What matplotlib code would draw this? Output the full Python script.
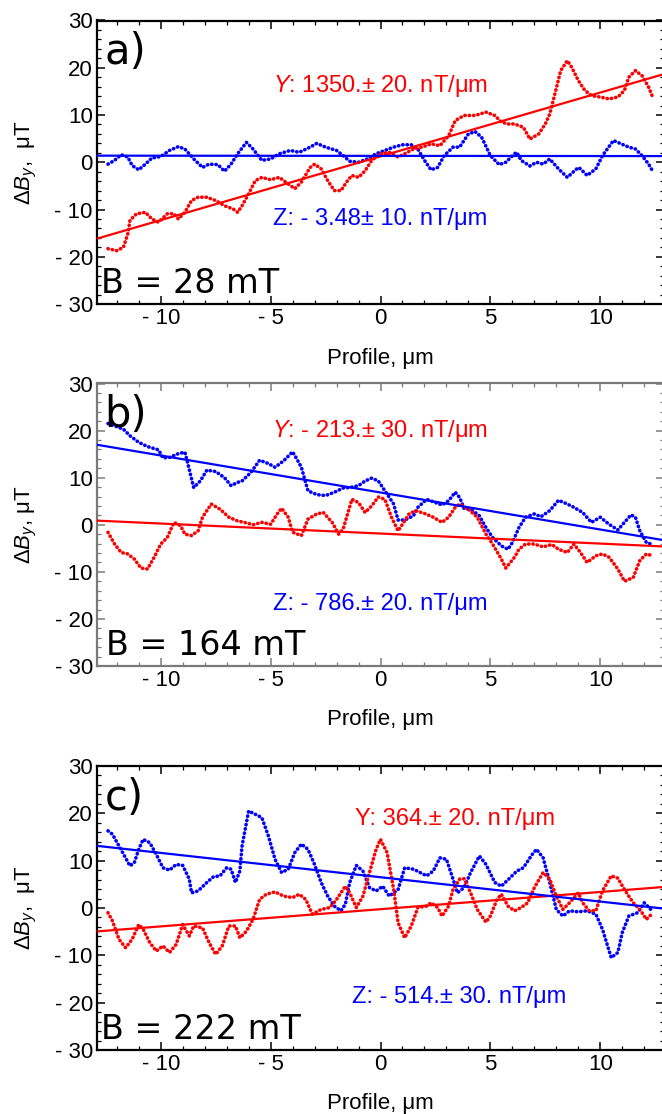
import matplotlib
matplotlib.use("Agg")
import matplotlib.pyplot as plt
from matplotlib.ticker import MultipleLocator, FixedLocator, FixedFormatter

plt.rcParams['font.family'] = ['Liberation Sans', 'DejaVu Sans']
plt.rcParams['mathtext.fontset'] = 'custom'
plt.rcParams['mathtext.rm'] = 'Liberation Sans'
plt.rcParams['mathtext.it'] = 'Liberation Sans:italic'

# ---------------- data ----------------
# panel a, B = 28 mT
a_red_x = [-12.4, -12.0, -11.7, -11.5, -11.4, -11.1, -10.7, -10.4, -10.1, -9.7, -9.4, -9.2, -8.9, -8.6, -8.3,
           -7.9, -7.5, -7.1, -6.7, -6.5, -6.3, -6.0, -5.7, -5.4, -5.0, -4.6, -4.2, -3.9, -3.6, -3.2, -3.0,
           -2.7, -2.4, -2.1, -1.8, -1.5, -1.3, -1.0, -0.7, -0.4, 0.0, 0.4, 0.8, 1.1, 1.5, 1.9, 2.3, 2.7,
           3.1, 3.4, 3.8, 4.3, 4.8, 5.2, 5.5, 5.8, 6.1, 6.5, 6.8, 7.2, 7.5, 7.7, 7.9, 8.2, 8.5, 8.7, 9.0,
           9.3, 9.6, 10.0, 10.4, 10.8, 11.1, 11.3, 11.6, 11.9, 12.2, 12.4]
a_red_y = [-18.3, -18.7, -18.0, -15.2, -12.3, -10.9, -10.6, -12.0, -12.7, -10.9, -10.9, -12.0, -10.6, -8.1, -7.4,
           -7.4, -8.1, -9.2, -9.9, -10.6, -9.2, -6.7, -3.9, -3.2, -3.7, -3.2, -4.6, -5.6, -4.2, -1.1, -0.4,
           -1.4, -3.9, -6.0, -6.0, -3.9, -2.8, -3.2, -1.8, 0.4, 1.8, 2.1, 1.1, 1.8, 2.8, 3.2, 3.9, 3.5,
           5.6, 8.8, 9.9, 9.9, 10.6, 9.9, 8.5, 8.1, 8.1, 7.4, 4.9, 6.0, 8.1, 10.2, 13.8, 19.4, 21.5, 20.1, 17.3,
           15.2, 14.1, 13.8, 13.4, 13.8, 15.2, 18.0, 19.4, 18.3, 15.9, 13.6]
a_blue_x = [-12.4, -12.1, -11.8, -11.5, -11.3, -11.0, -10.7, -10.4, -10.0, -9.6, -9.2, -8.9, -8.5, -8.1, -7.8,
            -7.4, -7.1, -6.8, -6.5, -6.1, -5.8, -5.4, -5.0, -4.6, -4.1, -3.7, -3.2, -2.9, -2.5, -2.0, -1.7,
            -1.4, -1.0, -0.6, -0.2, 0.2, 0.6, 1.0, 1.4, 1.7, 2.0, 2.3, 2.6, 2.9, 3.3, 3.6, 4.0, 4.3, 4.6,
            5.0, 5.4, 5.7, 6.1, 6.2, 6.4, 6.8, 7.1, 7.4, 7.7, 8.1, 8.5, 9.0, 9.1, 9.4, 9.8, 10.1, 10.6,
            10.9, 11.3, 11.6, 11.9, 12.2, 12.4]
a_blue_y = [-0.4, 0.4, 1.6, 1.1, -0.7, -1.6, -0.4, 0.9, 1.2, 2.5, 3.3, 2.8, 0.7, -1.1, -0.4,
            -0.5, -1.9, -0.4, 1.8, 4.2, 2.8, 0.4, 0.7, 1.8, 2.5, 2.1, 3.2, 4.0, 3.2, 2.5, 1.4,
            0.2, 0.0, 0.7, 1.8, 2.5, 3.2, 3.7, 3.7, 2.8, 0.4, -1.6, -1.1, 1.4, 3.2, 3.2, 6.0, 6.5, 5.3,
            1.4, -0.5, 0.0, 1.8, 2.1, 0.4, -0.8, 0.0, -0.4, 0.7, -1.4, -3.2, -1.1, -1.4, -2.8, -1.4, 1.4, 4.6,
            4.0, 3.2, 2.8, 1.4, -0.4, -2.0]

# panel b, B = 164 mT
b_red_x = [-12.4, -12.1, -11.8, -11.5, -11.2, -10.9, -10.6, -10.3, -10.0, -9.7, -9.4, -9.1, -8.9, -8.6, -8.3,
           -8.1, -7.7, -7.3, -6.9, -6.5, -6.2, -5.8, -5.4, -5.0, -4.7, -4.5, -4.2, -4.0, -3.6, -3.3, -2.9,
           -2.6, -2.2, -1.9, -1.7, -1.3, -1.0, -0.7, -0.4, -0.1, 0.2, 0.5, 0.8, 1.0, 1.3, 1.6, 2.0, 2.4,
           2.8, 3.1, 3.4, 3.6, 4.0, 4.4, 4.8, 5.1, 5.5, 5.7, 6.1, 6.3, 6.6, 7.0, 7.4, 7.8, 8.1, 8.5, 8.8,
           9.1, 9.4, 9.8, 10.1, 10.4, 10.8, 11.1, 11.5, 11.8, 12.1, 12.4]
b_red_y = [-1.6, -4.1, -5.9, -6.2, -7.3, -9.2, -9.4, -6.9, -4.1, -2.7, 0.5, -0.2, -2.0, -2.3, -1.3,
           1.6, 4.4, 3.3, 1.6, 0.8, 0.5, 0.0, 0.5, 0.1, 2.3, 3.5, 1.6, -1.6, -2.3, 1.2, 2.3,
           2.6, 0.5, -2.0, -0.9, 5.4, 4.7, 2.6, 4.0, 5.9, 5.4, 1.6, -1.3, 0.1, 2.3, 3.0, 2.4, 1.6,
           0.5, 1.6, 3.7, 4.4, 3.3, 1.6, -2.0, -4.1, -7.3, -9.2, -6.9, -5.2, -4.1, -4.1, -4.7, -4.2, -5.2, -5.9, -4.1,
           -5.9, -8.0, -6.6, -6.2, -6.9, -9.4, -12.0, -11.2, -7.6, -6.2, -6.6]
b_blue_x = [-12.4, -12.1, -11.7, -11.4, -11.0, -10.6, -10.1, -9.9, -9.6, -9.2, -8.9, -8.8, -8.5, -8.2, -7.9,
            -7.5, -7.1, -6.8, -6.5, -6.3, -5.9, -5.5, -5.1, -4.8, -4.4, -4.0, -3.8, -3.6, -3.3, -2.9, -2.5,
            -2.1, -1.7, -1.4, -1.0, -0.7, -0.4, -0.1, 0.2, 0.6, 0.8, 1.1, 1.5, 1.7, 2.1, 2.5, 2.8, 3.1,
            3.4, 3.6, 3.8, 4.2, 4.5, 4.8, 5.1, 5.5, 5.8, 6.0, 6.3, 6.6, 7.0, 7.3, 7.7, 8.1, 8.5, 8.8,
            9.2, 9.6, 10.0, 10.4, 10.8, 11.1, 11.4, 11.6, 11.8, 12.1, 12.4]
b_blue_y = [21.5, 21.0, 20.3, 18.9, 17.5, 16.6, 15.9, 14.2, 14.3, 15.1, 15.4, 13.6, 7.9, 9.3, 11.6,
            11.3, 10.0, 8.3, 9.0, 9.3, 11.1, 13.7, 13.0, 12.2, 13.6, 15.5, 13.9, 12.2, 7.2, 6.4, 6.2,
            6.9, 7.8, 7.9, 8.3, 9.3, 9.9, 9.3, 7.2, 4.4, 1.0, 1.0, 1.9, 3.7, 5.4, 4.7, 4.2, 5.1,
            6.9, 5.8, 3.5, 3.0, 1.9, -0.6, -2.7, -4.5, -5.2, -3.8, -0.6, 1.6, 2.3, 1.7, 3.0, 5.2, 4.4, 3.7,
            2.6, 0.5, 1.6, 0.1, -1.1, 0.5, 2.1, 1.6, -1.3, -3.8, -4.2]

# panel c, B = 222 mT
c_red_x = [-12.4, -12.2, -11.9, -11.6, -11.3, -11.0, -10.8, -10.5, -10.2, -9.9, -9.6, -9.3, -9.0, -8.7, -8.5,
           -8.1, -7.8, -7.5, -7.2, -6.9, -6.6, -6.4, -6.1, -5.8, -5.5, -5.2, -4.8, -4.4, -4.0, -3.7, -3.4,
           -3.1, -2.7, -2.3, -2.0, -1.6, -1.4, -1.1, -0.8, -0.5, -0.2, 0.0, 0.3, 0.6, 0.8, 1.1, 1.4, 1.7,
           2.1, 2.3, 2.6, 2.8, 3.1, 3.3, 3.6, 3.8, 4.1, 4.4, 4.8, 5.0, 5.3, 5.5, 5.8, 6.1, 6.4, 6.7, 7.0,
           7.4, 7.7, 8.0, 8.3, 8.6, 9.0, 9.2, 9.5, 9.8, 10.1, 10.5, 10.8, 11.1, 11.5, 11.8, 12.1, 12.4]
c_red_y = [-1.0, -2.7, -6.6, -8.4, -6.6, -3.5, -4.5, -7.3, -9.1, -8.0, -9.4, -7.7, -3.5, -5.9, -3.8,
           -4.2, -7.3, -9.8, -8.0, -3.8, -3.8, -6.3, -4.9, -2.4, 1.8, 2.9, 3.4, 2.5, 2.2, 2.9, 1.8,
           -1.3, -0.3, 0.1, 1.8, 4.6, 3.2, 0.1, 2.5, 7.5, 12.4, 14.5, 11.7, 3.9, -3.1, -6.3, -3.8, 0.1,
           0.4, 1.1, 0.1, -1.7, 0.4, 3.9, 6.1, 6.2, 3.2, -0.3, -3.0, -1.7, 1.8, 2.9, 0.4, -0.6, 0.1, 1.1, 4.3,
           7.5, 6.1, 2.5, -0.3, 1.1, 3.2, 1.1, -0.6, -0.6, 3.6, 6.8, 6.3, 3.9, 1.1, -0.3, -2.4, -1.0]
c_blue_x = [-12.4, -12.2, -11.9, -11.6, -11.4, -11.2, -11.0, -10.8, -10.5, -10.2, -9.9, -9.6, -9.3, -9.0, -8.7,
            -8.6, -8.3, -7.9, -7.6, -7.3, -7.0, -6.8, -6.6, -6.4, -6.3, -6.0, -5.7, -5.4, -5.1, -4.8, -4.5,
            -4.2, -3.9, -3.6, -3.3, -3.0, -2.7, -2.4, -2.1, -1.8, -1.6, -1.4, -1.1, -0.8, -0.5, -0.2, 0.1,
            0.4, 0.8, 1.1, 1.5, 1.8, 2.1, 2.4, 2.7, 3.0, 3.3, 3.5, 3.8, 4.1, 4.5, 4.8, 5.2, 5.5, 5.9, 6.2,
            6.5, 6.9, 7.1, 7.4, 7.7, 8.0, 8.3, 8.6, 9.0, 9.4, 9.8, 10.1, 10.5, 10.8, 11.0, 11.3, 11.7, 12.0, 12.3]
c_blue_y = [16.3, 15.6, 13.1, 10.6, 8.9, 9.6, 12.4, 14.5, 13.8, 11.3, 8.5, 8.0, 9.2, 9.0, 6.1,
            3.2, 3.6, 5.4, 6.6, 6.8, 8.5, 8.2, 5.4, 7.8, 13.1, 20.5, 19.8, 19.1, 15.2, 10.3, 7.5,
            8.2, 11.7, 13.5, 12.4, 9.2, 5.4, 2.5, 0.4, -0.6, 0.8, 5.4, 9.0, 7.8, 4.3, 3.6, 4.6,
            2.5, 3.9, 8.5, 8.2, 7.5, 6.8, 7.8, 10.6, 10.3, 6.1, 3.2, 4.3, 7.5, 11.0, 9.2, 5.4, 4.6, 6.4, 7.8,
            8.5, 11.3, 12.4, 10.6, 5.4, -0.3, -1.7, -0.6, -0.8, -0.6, -1.3, -4.5, -10.5, -9.4, -5.2, -1.7, -1.0, 1.1, -0.3]

# linear fits: slope (uT/um), intercept (uT)
fit_red = [(1.350, 1.25), (-0.213, -1.87), (0.364, -0.25)]
fit_blue = [(-0.00348, 1.35), (-0.786, 6.85), (-0.514, 6.5)]

panel_letters = ["a)", "b)", "c)"]
field_labels = ["B = 28 mT", "B = 164 mT", "B = 222 mT"]
y_texts = [r"$Y$: 1350.± 20. nT/μm", r"$Y$: - 213.± 30. nT/μm", "Y: 364.± 20. nT/μm"]
z_texts = ["Z: - 3.48± 10. nT/μm", "Z: - 786.± 20. nT/μm", "Z: - 514.± 30. nT/μm"]

x_ticks = [-10, -5, 0, 5, 10]
x_ticklabels = ["- 10", "- 5", "0", "5", "10"]
y_ticks = [-30, -20, -10, 0, 10, 20, 30]
y_ticklabels = ["- 30", "- 20", "- 10", "0", "10", "20", "30"]

# ---------------- layout ----------------
W, H = 662, 1114
fig = plt.figure(figsize=(W / 100, H / 100), dpi=100)

ax_left = 97
ax_right = 664
panel_tb = [(20.5, 304), (383.5, 666), (766, 1050)]
frame_colors = ["black", "#7a7a7a", "black"]
y_text_pos = [(0.0, 16.2), (0.0, 20.0), (3.4, 18.7)]
z_text_pos = [(0.0, -12.0), (0.0, -16.8), (3.6, -18.9)]
field_x = [-12.7, -12.5, -12.7]

reds = [(a_red_x, a_red_y), (b_red_x, b_red_y), (c_red_x, c_red_y)]
blues = [(a_blue_x, a_blue_y), (b_blue_x, b_blue_y), (c_blue_x, c_blue_y)]

RED = "#ff0000"
BLUE = "#0000ff"
XL = (-12.9, 12.9)

for i in range(3):
    top, bot = panel_tb[i]
    ax = fig.add_axes([ax_left / W, 1 - bot / H, (ax_right - ax_left) / W, (bot - top) / H])
    ax.set_xlim(*XL)
    ax.set_ylim(-30, 30)

    fc = frame_colors[i]
    for s in ["left", "bottom", "top"]:
        ax.spines[s].set_color(fc)
        ax.spines[s].set_linewidth(1.6)
    ax.spines["right"].set_visible(False)

    ax.xaxis.set_major_locator(FixedLocator(x_ticks))
    ax.xaxis.set_major_formatter(FixedFormatter(x_ticklabels))
    ax.xaxis.set_minor_locator(MultipleLocator(1))
    ax.yaxis.set_major_locator(FixedLocator(y_ticks))
    ax.yaxis.set_major_formatter(FixedFormatter(y_ticklabels))
    ax.yaxis.set_minor_locator(MultipleLocator(2))
    ax.tick_params(which="both", direction="in", top=True, right=True, color=fc,
                   labelsize=16, labelcolor="black")
    ax.tick_params(which="major", length=5.5, width=1.1, pad=3)
    ax.tick_params(which="minor", length=3, width=0.9)

    # data profiles
    rx, ry = reds[i]
    bx, by = blues[i]
    ax.plot(bx, by, color=BLUE, lw=2.6, linestyle=(0, (0.1, 1.1)), dash_capstyle="round", zorder=3)
    ax.plot(rx, ry, color=RED, lw=2.6, linestyle=(0, (0.1, 1.1)), dash_capstyle="round", zorder=3)

    # fit lines
    xs = list(XL)
    mr, cr = fit_red[i]
    mb, cb = fit_blue[i]
    ax.plot(xs, [mr * v + cr for v in xs], color=RED, lw=1.6, zorder=4)
    ax.plot(xs, [mb * v + cb for v in xs], color=BLUE, lw=1.6, zorder=4)

    # annotations
    ax.text(*y_text_pos[i], y_texts[i], color=RED, fontsize=17, ha="center", va="center")
    ax.text(*z_text_pos[i], z_texts[i], color=BLUE, fontsize=17, ha="center", va="center")
    ax.text(-12.55, 20.8, panel_letters[i], fontsize=30, family="DejaVu Sans",
            ha="left", va="baseline", color="black")
    ax.text(field_x[i], -27.7, field_labels[i], fontsize=24, family="DejaVu Sans",
            ha="left", va="baseline", color="black")

    ax.set_xlabel("Profile, μm", fontsize=16)
    ax.xaxis.label.set_verticalalignment("center")
    ax.xaxis.set_label_coords(0.5, -54 / (bot - top))
    ylab = r"$\Delta B_y$,  μT" if i != 1 else r"$\Delta B_y$, μT"
    ax.set_ylabel(ylab, fontsize=16)
    ax.yaxis.label.set_verticalalignment("center")
    ax.yaxis.set_label_coords(-(ax_left - 26) / (ax_right - ax_left), 0.5)

fig.savefig("out.png", dpi=100)
